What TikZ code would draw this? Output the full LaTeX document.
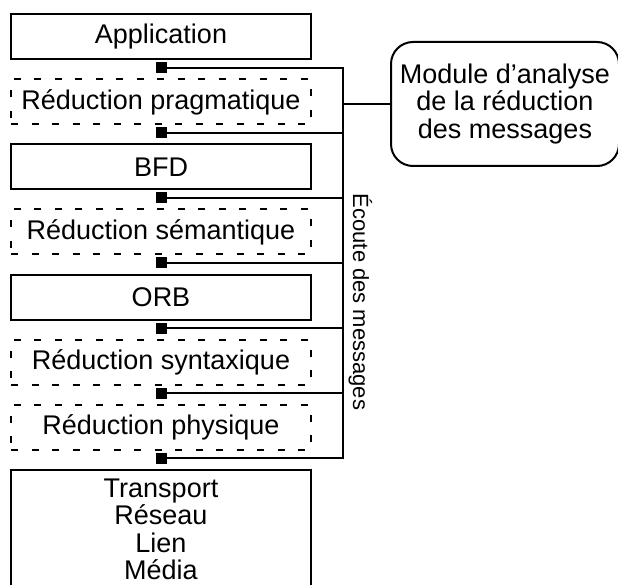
\documentclass[tikz,border=0pt]{standalone}
\usepackage{fontspec}
\setmainfont{Liberation Sans}
\usepackage{tikz}
\usetikzlibrary{positioning}

\begin{document}
\begin{tikzpicture}[x=1pt,y=-1pt,
        layer/.style={draw,rectangle,minimum width=300pt,minimum height=45pt,inner sep=2pt,outer sep=0pt},
        reduction/.style={layer,dash pattern=on 7pt off 13.5pt},
        tap/.style={fill,rectangle,minimum size=11pt,inner sep=0pt,outer sep=0pt},
        module/.style={draw,rectangle,rounded corners=22pt,align=center,minimum width=228pt,minimum height=124pt,outer sep=0pt},
        node distance=20pt,line width=2pt,
        font=\fontsize{27}{27.5}\selectfont]

    \useasboundingbox (0,0) rectangle (618,585);

    \node[layer] (app) at (161,37) {Application};
    \node[reduction,below=20pt of app] (prag) {Réduction pragmatique};
    \node[layer,below=20pt of prag] (bfd) {BFD};
    \node[reduction,below=20pt of bfd] (sem) {Réduction sémantique};
    \node[layer,below=20pt of sem] (orb) {ORB};
    \node[reduction,below=20pt of orb] (syn) {Réduction syntaxique};
    \node[reduction,below=20pt of syn] (phy) {Réduction physique};
    \node[layer,below=20pt of phy,minimum height=120pt,align=center] (net)
        {Transport\\Réseau\\Lien\\Média};

    \node[tap,below=3pt of app] (t1) {};
    \node[tap,below=3pt of prag] (t2) {};
    \node[tap,below=3pt of bfd] (t3) {};
    \node[tap,below=3pt of sem] (t4) {};
    \node[tap,below=3pt of orb] (t5) {};
    \node[tap,below=3pt of syn] (t6) {};
    \node[tap,below=3pt of phy] (t7) {};

    \coordinate (bus) at (343,0);
    \node[module] (mod) at (505,104) {Module d’analyse\\de la réduction\\des messages};

    \draw (t1) -- (t1 -| bus) -- (t7 -| bus) -- (t7);
    \foreach \t in {t2,t3,t4,t5,t6}
        \draw (\t) -- (\t -| bus);
    \draw (mod.west -| bus) -- (mod.west);

    \node[rotate=-90,anchor=base,inner sep=0pt,font=\fontsize{22}{24}\selectfont] (listen) at (353,302) {Écoute des messages};
\end{tikzpicture}
\end{document}
